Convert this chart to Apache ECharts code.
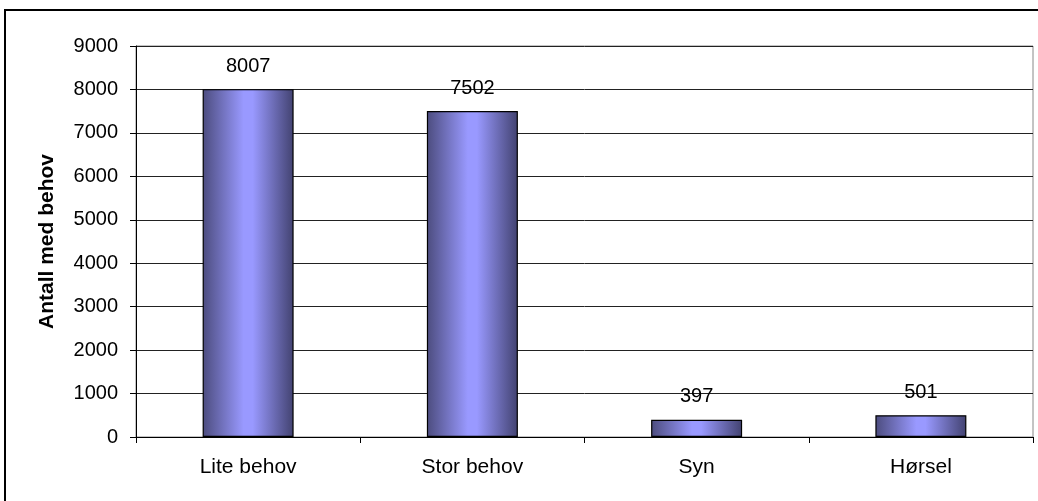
<!DOCTYPE html>
<html>
<head>
<meta charset="utf-8">
<script src="https://cdn.jsdelivr.net/npm/echarts@6/dist/echarts.min.js"></script>
<style>
html,body{margin:0;padding:0;background:#fff;}
#c{width:1038px;height:501px;}
</style>
</head>
<body>
<div id="c"></div>
<script>
const categories = ['Lite behov', 'Stor behov', 'Syn', 'Hørsel'];
const values = [8007, 7502, 397, 501];
const yAxisName = 'Antall med behov';

const chart = echarts.init(document.getElementById('c'));
const barGradient = new echarts.graphic.LinearGradient(0, 0, 1, 0, [
  {offset: 0, color: '#4c4c7e'},
  {offset: 0.45, color: '#9999ff'},
  {offset: 0.55, color: '#9999ff'},
  {offset: 1, color: '#424270'}
]);
const font = 'Arial, Liberation Sans, sans-serif';
chart.setOption({
  backgroundColor: '#fff',
  animation: false,
  graphic: [{
    type: 'rect',
    shape: {x: 5, y: 10, width: 1100, height: 600},
    style: {fill: 'none', stroke: '#000', lineWidth: 2},
    silent: true, z: 100
  }],
  grid: {left: 136, right: 5, top: 46, bottom: 64, show: true, borderColor: '#888', borderWidth: 1, backgroundColor: 'transparent'},
  xAxis: {
    type: 'category',
    data: categories,
    axisLine: {lineStyle: {color: '#000', width: 1}},
    axisTick: {show: true, alignWithLabel: false, length: 6, lineStyle: {color: '#000'}},
    axisLabel: {color: '#000', fontFamily: font, fontSize: 21, margin: 20}
  },
  yAxis: {
    type: 'value',
    min: 0, max: 9000, interval: 1000,
    name: yAxisName,
    nameLocation: 'middle',
    nameGap: 78,
    nameTextStyle: {color: '#000', fontFamily: font, fontSize: 21, fontWeight: 'bold'},
    axisLine: {show: true, lineStyle: {color: '#000'}},
    axisTick: {show: true, length: 6, lineStyle: {color: '#000'}},
    axisLabel: {color: '#000', fontFamily: font, fontSize: 20, margin: 18, formatter: v => String(v)},
    splitLine: {show: true, lineStyle: {color: '#222', width: 1}}
  },
  series: [{
    type: 'bar',
    data: values,
    barWidth: 91,
    itemStyle: {color: barGradient, borderColor: '#000', borderWidth: 1.2},
    label: {show: true, position: 'top', distance: 13, color: '#000', fontFamily: font, fontSize: 20}
  }]
});
</script>
</body>
</html>
